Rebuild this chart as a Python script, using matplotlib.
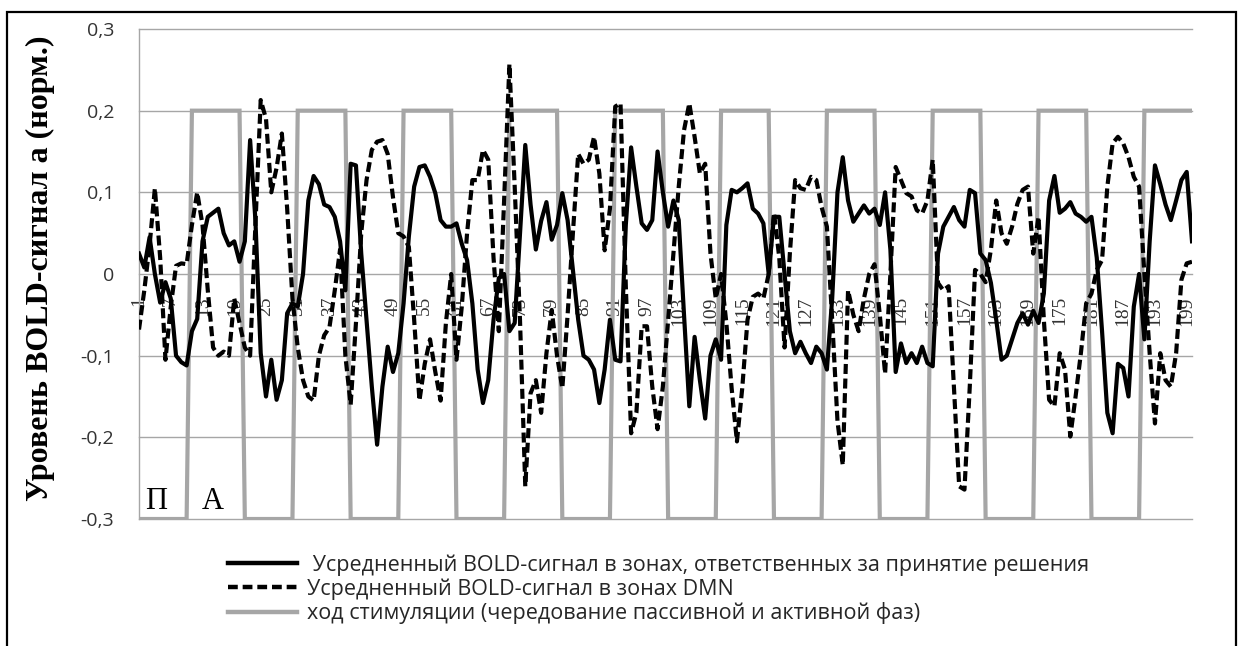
import numpy as np
import matplotlib
matplotlib.use("Agg")
import matplotlib.pyplot as plt
from matplotlib.lines import Line2D
from matplotlib.patches import Rectangle

# scan number (categories 1..200)
scans = np.arange(1, 201)

# mean BOLD signal in decision-making zones (solid line)
decision = [
    0.025, 0.008, 0.045, 0.0, -0.035, -0.01, -0.03, -0.1, -0.108, -0.112,
    -0.07, -0.055, 0.04, 0.07, 0.075, 0.08, 0.05, 0.035, 0.04, 0.015,
    0.04, 0.164, 0.066, -0.097, -0.15, -0.105, -0.154, -0.13, -0.048, -0.036,
    -0.04, 0.0, 0.09, 0.12, 0.11, 0.085, 0.082, 0.07, 0.04, -0.02,
    0.135, 0.133, 0.025, -0.056, -0.138, -0.209, -0.138, -0.089, -0.12, -0.097,
    -0.036, 0.046, 0.107, 0.131, 0.133, 0.119, 0.099, 0.066, 0.058, 0.058,
    0.062, 0.037, 0.017, -0.036, -0.117, -0.158, -0.13, -0.056, -0.005, 0.0,
    -0.07, -0.06, 0.05, 0.158, 0.085, 0.03, 0.065, 0.088, 0.042, 0.06,
    0.099, 0.066, 0.005, -0.056, -0.1, -0.105, -0.117, -0.158, -0.117, -0.056,
    -0.105, -0.107, 0.06, 0.155, 0.107, 0.062, 0.054, 0.066, 0.15, 0.1,
    0.058, 0.09, 0.066, -0.05, -0.162, -0.077, -0.13, -0.177, -0.1, -0.08,
    -0.105, 0.06, 0.103, 0.1, 0.105, 0.111, 0.08, 0.074, 0.062, 0.0,
    0.07, 0.07, 0.0, -0.07, -0.097, -0.083, -0.097, -0.109, -0.089, -0.097,
    -0.117, -0.03, 0.1, 0.143, 0.09, 0.064, 0.074, 0.084, 0.074, 0.08,
    0.06, 0.1, 0.03, -0.12, -0.085, -0.109, -0.097, -0.109, -0.089, -0.109,
    -0.113, 0.025, 0.058, 0.07, 0.082, 0.066, 0.058, 0.103, 0.099, 0.025,
    0.017, -0.011, -0.056, -0.105, -0.1, -0.08, -0.06, -0.048, -0.062, -0.045,
    -0.06, -0.024, 0.09, 0.12, 0.075, 0.08, 0.088, 0.074, 0.07, 0.064,
    0.07, 0.02, -0.07, -0.17, -0.195, -0.11, -0.115, -0.15, -0.04, 0.0,
    -0.08, 0.04, 0.133, 0.11, 0.085, 0.066, 0.09, 0.115, 0.125, 0.04,
]

# mean BOLD signal in DMN zones (dashed line)
dmn = [
    -0.068, -0.02, 0.035, 0.105, 0.02, -0.105, -0.04, 0.01, 0.013, 0.012,
    0.06, 0.1, 0.06, -0.02, -0.09, -0.1, -0.095, -0.1, -0.03, -0.06,
    -0.09, -0.1, 0.06, 0.213, 0.19, 0.1, 0.13, 0.172, 0.08, -0.03,
    -0.09, -0.13, -0.15, -0.155, -0.1, -0.075, -0.065, -0.02, 0.03, -0.1,
    -0.16, -0.06, 0.05, 0.115, 0.152, 0.162, 0.164, 0.147, 0.094, 0.05,
    0.046, 0.033, -0.056, -0.155, -0.11, -0.08, -0.12, -0.155, -0.06, 0.0,
    -0.105, -0.04, 0.05, 0.115, 0.115, 0.152, 0.14, 0.02, -0.07, 0.09,
    0.257, 0.107, -0.056, -0.26, -0.146, -0.13, -0.17, -0.097, -0.044, -0.1,
    -0.14, -0.05, 0.05, 0.147, 0.135, 0.14, 0.168, 0.123, 0.029, 0.08,
    0.205, 0.209, -0.015, -0.195, -0.17, -0.064, -0.064, -0.138, -0.19, -0.138,
    -0.056, 0.025, 0.107, 0.176, 0.209, 0.168, 0.123, 0.135, 0.025, -0.03,
    0.0, -0.06, -0.14, -0.205, -0.14, -0.056, -0.028, -0.024, -0.03, 0.0,
    0.075, 0.02, -0.09, 0.025, 0.115, 0.105, 0.103, 0.119, 0.115, 0.082,
    0.058, -0.056, -0.18, -0.234, -0.02, -0.05, -0.07, -0.03, 0.0, 0.012,
    -0.05, -0.122, 0.0, 0.131, 0.115, 0.099, 0.095, 0.078, 0.074, 0.09,
    0.14, -0.011, -0.02, -0.015, -0.138, -0.26, -0.264, -0.138, 0.005, 0.0,
    -0.01, 0.03, 0.09, 0.05, 0.037, 0.058, 0.086, 0.103, 0.107, 0.025,
    0.07, -0.056, -0.154, -0.162, -0.097, -0.117, -0.199, -0.15, -0.097, -0.036,
    -0.024, 0.005, 0.017, 0.107, 0.16, 0.168, 0.16, 0.143, 0.119, 0.107,
    0.0, -0.097, -0.183, -0.097, -0.13, -0.138, -0.097, -0.007, 0.013, 0.015,
]

# stimulation course: passive (-0.3) / active (0.2) blocks of 10 scans
stim = [
    -0.3, -0.3, -0.3, -0.3, -0.3, -0.3, -0.3, -0.3, -0.3, -0.3,
    0.2, 0.2, 0.2, 0.2, 0.2, 0.2, 0.2, 0.2, 0.2, 0.2,
    -0.3, -0.3, -0.3, -0.3, -0.3, -0.3, -0.3, -0.3, -0.3, -0.3,
    0.2, 0.2, 0.2, 0.2, 0.2, 0.2, 0.2, 0.2, 0.2, 0.2,
    -0.3, -0.3, -0.3, -0.3, -0.3, -0.3, -0.3, -0.3, -0.3, -0.3,
    0.2, 0.2, 0.2, 0.2, 0.2, 0.2, 0.2, 0.2, 0.2, 0.2,
    -0.3, -0.3, -0.3, -0.3, -0.3, -0.3, -0.3, -0.3, -0.3, -0.3,
    0.2, 0.2, 0.2, 0.2, 0.2, 0.2, 0.2, 0.2, 0.2, 0.2,
    -0.3, -0.3, -0.3, -0.3, -0.3, -0.3, -0.3, -0.3, -0.3, -0.3,
    0.2, 0.2, 0.2, 0.2, 0.2, 0.2, 0.2, 0.2, 0.2, 0.2,
    -0.3, -0.3, -0.3, -0.3, -0.3, -0.3, -0.3, -0.3, -0.3, -0.3,
    0.2, 0.2, 0.2, 0.2, 0.2, 0.2, 0.2, 0.2, 0.2, 0.2,
    -0.3, -0.3, -0.3, -0.3, -0.3, -0.3, -0.3, -0.3, -0.3, -0.3,
    0.2, 0.2, 0.2, 0.2, 0.2, 0.2, 0.2, 0.2, 0.2, 0.2,
    -0.3, -0.3, -0.3, -0.3, -0.3, -0.3, -0.3, -0.3, -0.3, -0.3,
    0.2, 0.2, 0.2, 0.2, 0.2, 0.2, 0.2, 0.2, 0.2, 0.2,
    -0.3, -0.3, -0.3, -0.3, -0.3, -0.3, -0.3, -0.3, -0.3, -0.3,
    0.2, 0.2, 0.2, 0.2, 0.2, 0.2, 0.2, 0.2, 0.2, 0.2,
    -0.3, -0.3, -0.3, -0.3, -0.3, -0.3, -0.3, -0.3, -0.3, -0.3,
    0.2, 0.2, 0.2, 0.2, 0.2, 0.2, 0.2, 0.2, 0.2, 0.2,
]

x_ticks = [1, 7, 13, 19, 25, 31, 37, 43, 49, 55, 61, 67, 73, 79, 85, 91, 97,
           103, 109, 115, 121, 127, 133, 139, 145, 151, 157, 163, 169, 175,
           181, 187, 193, 199]
y_ticks = [-0.3, -0.2, -0.1, 0.0, 0.1, 0.2, 0.3]
y_labels = ['-0,3', '-0,2', '-0,1', '0', '0,1', '0,2', '0,3']

labels = [' Усредненный BOLD-сигнал в зонах, ответственных за принятие решения',
          'Усредненный BOLD-сигнал в зонах DMN',
          'ход стимуляции (чередование пассивной и активной фаз)']

W, H = 1238, 646
fig = plt.figure(figsize=(W / 100, H / 100), dpi=100)
ax = fig.add_axes([139 / W, 1 - 519 / H, (1192 - 139) / W, (519 - 29) / H])

grid_c = '#a6a6a6'
for yv in y_ticks:
    ax.axhline(yv, color=grid_c, lw=1.0, zorder=1, clip_on=False)

ax.plot(scans, stim, color='#a6a6a6', lw=3.0, zorder=2, solid_joinstyle='miter')
ax.plot(scans, dmn, color='black', lw=3.0, zorder=3,
        linestyle=(0, (2.4, 1.1)), dash_capstyle='butt')
ax.plot(scans, decision, color='black', lw=3.0, zorder=4)

ax.set_xlim(1, 200)
ax.set_ylim(-0.3, 0.3)

for s in ['top', 'right', 'bottom']:
    ax.spines[s].set_visible(False)
ax.spines['left'].set_color(grid_c)
ax.spines['left'].set_linewidth(1.0)
ax.spines['bottom'].set_position(('data', 0))

ax.set_yticks(y_ticks)
ax.set_yticklabels(y_labels, family='Open Sans', fontsize=14, color='#333333')
ax.tick_params(axis='y', length=0, pad=18)
ax.set_xticks(x_ticks)
ax.set_xticklabels([str(v) for v in x_ticks], family='Liberation Serif',
                   fontsize=14, color='#333333', rotation=90)
ax.tick_params(axis='x', length=0, pad=16)

ax.text(4.2, -0.278, 'П', family='Liberation Serif', fontsize=22,
        ha='center', va='center', zorder=5)
ax.text(15, -0.278, 'А', family='Liberation Serif', fontsize=22,
        ha='center', va='center', zorder=5)

fig.text(40 / W, 1 - 268 / H, 'Уровень BOLD-сигнал а (норм.)', rotation=90,
         family='Liberation Serif', weight='bold', fontsize=23,
         ha='center', va='center')

handles = [Line2D([], [], color='black', lw=3.2),
           Line2D([], [], color='black', lw=3.2, linestyle=(0, (2.2, 1.1)),
                  dash_capstyle='butt'),
           Line2D([], [], color='#a6a6a6', lw=3.2)]
fig.legend(handles, labels, loc='upper left',
           bbox_to_anchor=(228 / W, 1 - 554 / H), frameon=False,
           prop={'family': 'Open Sans', 'size': 15.5}, handlelength=3.2,
           handletextpad=0.45, labelspacing=0.12, borderpad=0,
           borderaxespad=0, labelcolor='#262626')

# outer frame
fig.add_artist(Rectangle((7 / W, -0.05), (1236 - 7) / W, 1.05 - 12 / H,
                         transform=fig.transFigure, fill=False,
                         edgecolor='black', lw=1.6))

fig.savefig('out.png', dpi=100)
